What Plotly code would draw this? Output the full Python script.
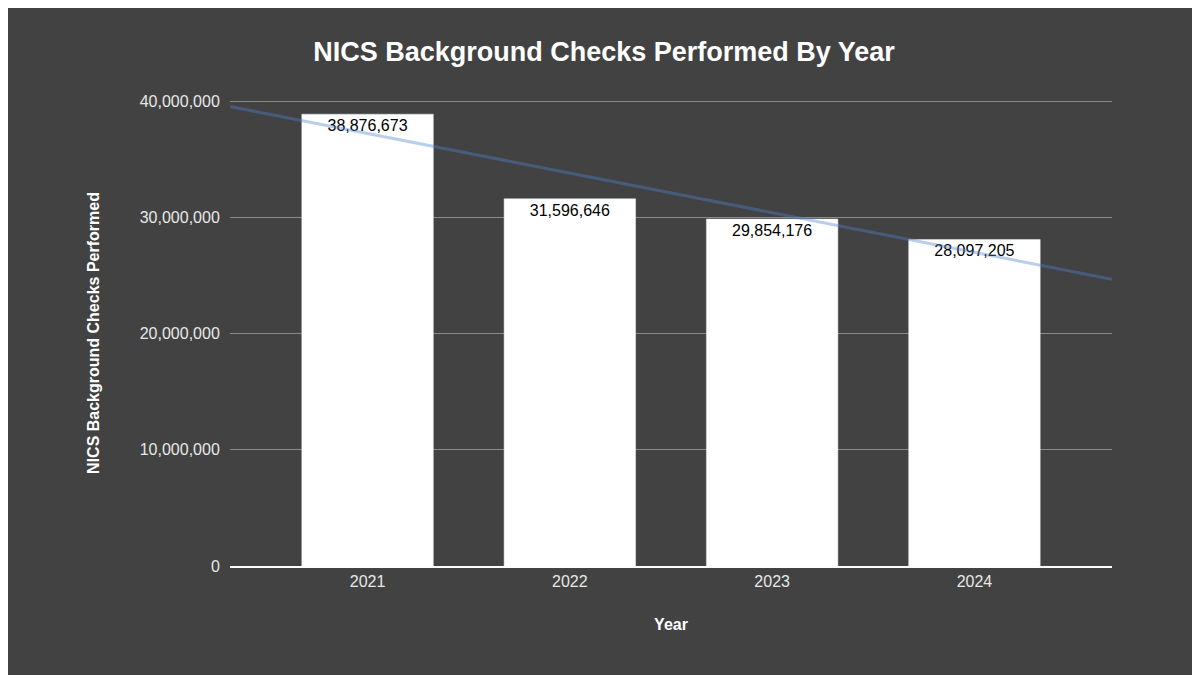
import numpy as np
import plotly.graph_objects as go

years = ["2021", "2022", "2023", "2024"]
checks = [38876673, 31596646, 29854176, 28097205]

xs = np.arange(len(years))
slope, intercept = np.polyfit(xs, checks, 1)
xr = [-0.68, 3.68]
trend = [intercept + slope * v for v in xr]

fig = go.Figure()
fig.add_trace(go.Bar(
    x=xs, y=checks, width=0.65, marker_color="white",
    text=[f"{v:,}" for v in checks], textposition="inside", insidetextanchor="end",
    textfont=dict(color="black", size=16, family="Liberation Sans, Arial"), showlegend=False,
    textangle=0,
))
fig.add_trace(go.Scatter(
    x=xr, y=trend, mode="lines", line=dict(color="rgba(80,130,210,0.4)", width=3),
    showlegend=False, hoverinfo="skip", cliponaxis=False,
))
fig.update_layout(
    width=1192, height=667,
    paper_bgcolor="#424242", plot_bgcolor="#424242",
    margin=dict(l=222, r=88, t=92, b=109),
    title=dict(text="<b>NICS Background Checks Performed By Year</b>", x=0.5, xanchor="center",
               y=0.935, yanchor="middle", font=dict(color="white", size=27, family="Liberation Sans, Arial")),
    font=dict(family="Liberation Sans, Arial", color="#e8e8e8", size=16),
    xaxis=dict(range=xr, tickvals=list(xs), ticktext=years, showgrid=False, zeroline=False,
               showline=True, linecolor="white", linewidth=1.5, ticks="",
               title=dict(text="<b>Year</b>", font=dict(color="white", size=16), standoff=30)),
    yaxis=dict(range=[0, 40100000], tickvals=[0, 10000000, 20000000, 30000000, 40000000],
               tickformat=",", gridcolor="#8a8a8a", zeroline=False, ticks="outside", ticklen=6,
               tickcolor="rgba(0,0,0,0)",
               title=dict(text="<b>NICS Background Checks Performed</b>", font=dict(color="white", size=16),
                          standoff=36)),
)
fig.write_html("out.html")
